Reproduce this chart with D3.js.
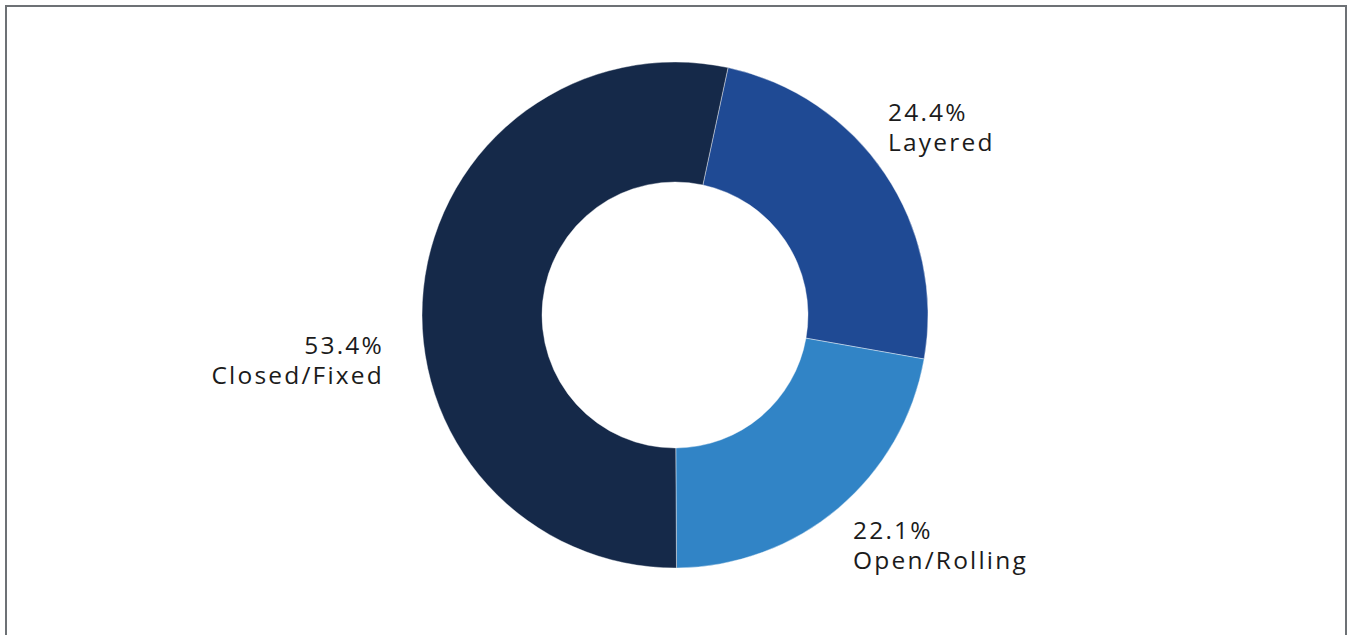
<!DOCTYPE html>
<html>
<head>
<meta charset="utf-8">
<script src="https://cdn.jsdelivr.net/npm/d3@7"></script>
<style>
  html, body { margin: 0; padding: 0; background: #fff; }
  svg { display: block; }
  .lbl { font-family: "Open Sans", "Noto Sans", sans-serif; font-size: 24.5px; letter-spacing: 2.2px; fill: #1b1b1b; }
</style>
</head>
<body>
<svg id="chart" width="1348" height="635"></svg>
<script>
// Share of programmes by structure type
const categories = ["Layered", "Open/Rolling", "Closed/Fixed"];
const values = [24.4, 22.1, 53.4];
const colors = ["#1f4a94", "#3184c6", "#152949"];

const width = 1348, height = 635;
const cx = 675, cy = 315;
const outerR = 253, innerR = 133;
const startDeg = 12.1;

const svg = d3.select("#chart");

// frame
svg.append("path")
  .attr("d", `M6,${height + 2} V6 H1346 V${height + 2}`)
  .attr("fill", "none")
  .attr("stroke", "#6d7175")
  .attr("stroke-width", 2);

const data = categories.map((c, i) => ({ name: c, value: values[i], color: colors[i] }));

const start = startDeg * Math.PI / 180;
const pie = d3.pie()
  .value(d => d.value)
  .sort(null)
  .startAngle(start)
  .endAngle(start + 2 * Math.PI);

const arc = d3.arc().innerRadius(innerR).outerRadius(outerR);

const g = svg.append("g").attr("transform", `translate(${cx},${cy})`);
const arcs = pie(data);

g.selectAll("path.slice")
  .data(arcs)
  .join("path")
  .attr("class", "slice")
  .attr("d", arc)
  .attr("fill", d => d.data.color)
  .attr("stroke", "#ffffff")
  .attr("stroke-opacity", 0.5)
  .attr("stroke-width", 0.8);

// label anchors, one per category
const labelPos = {
  "Layered":      { x: 888, y: 121, anchor: "start" },
  "Open/Rolling": { x: 853, y: 539, anchor: "start" },
  "Closed/Fixed": { x: 384, y: 354, anchor: "end" }
};

const fmt = d3.format(".1f");
arcs.forEach(a => {
  const p = labelPos[a.data.name];
  const t = svg.append("text")
    .attr("class", "lbl")
    .attr("text-anchor", p.anchor)
    .attr("x", p.x)
    .attr("y", p.y);
  t.append("tspan").attr("x", p.x).text(fmt(a.data.value) + "%");
  t.append("tspan").attr("x", p.x).attr("dy", 30).text(a.data.name);
});
</script>
</body>
</html>
